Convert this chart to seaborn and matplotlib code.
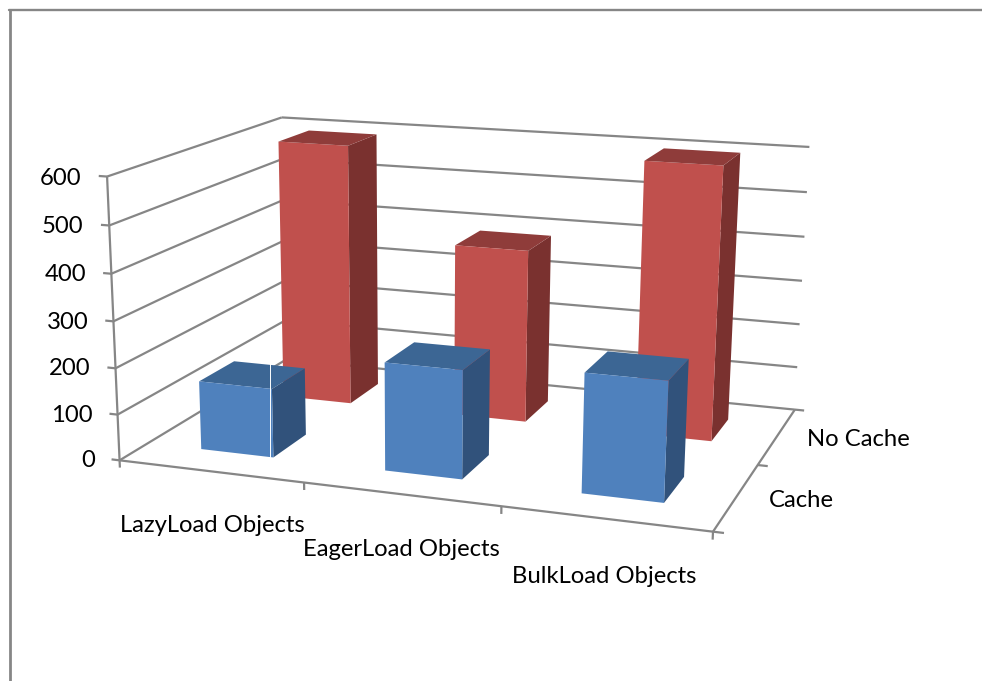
import numpy as np
import matplotlib
matplotlib.use("Agg")
import matplotlib.pyplot as plt
from matplotlib.lines import Line2D
import seaborn as sns

# Query timings by load strategy, with and without the cache
categories = ["LazyLoad Objects", "EagerLoad Objects", "BulkLoad Objects"]
series_names = ["Cache", "No Cache"]
cache_values = [150, 231, 250]
no_cache_values = [594, 388, 600]
value_ticks = [0, 100, 200, 300, 400, 500, 600]

W, H = 982, 681
GRID = "#868686"
BLUE = sns.color_palette(["#4F81BD", "#3C6694", "#31527B"])
RED = sns.color_palette(["#C0504D", "#8F3C3A", "#7A312F"])

sns.set_theme(style="white")
plt.rcParams["font.family"] = ["Lato", "DejaVu Sans"]
plt.rcParams["font.size"] = 17.2

# Scene corners (category, series, value) and where the camera puts them
scene_pts = np.array([
    [0, 0, 0], [3, 0, 0], [3, 2, 0], [0, 2, 0],
    [0, 0, 600], [0, 2, 600], [3, 2, 600],
], float)
image_pts = np.array([
    [120, 459], [713, 533], [795, 409], [285, 361],
    [106, 177], [283, 117], [809, 147],
], float)
# A few bar corners pin down the remaining camera freedom
scene_extra = np.array([[0.7, 0.3, 0], [1.7, 0.3, 0], [2.7, 0.3, 0], [2.7, 1.3, 0]], float)
image_extra = np.array([[274, 457], [463, 479], [663, 504], [712, 440]], float)
scene_pts = np.vstack([scene_pts, scene_extra])
image_pts = np.vstack([image_pts, image_extra])


def fit_camera(X, uv):
    """Direct linear transform giving a 3x4 camera matrix."""
    rows = []
    for (x, y, z), (u, v) in zip(X, uv):
        rows.append([x, y, z / 200, 1, 0, 0, 0, 0, -u * x, -u * y, -u * z / 200, -u])
        rows.append([0, 0, 0, 0, x, y, z / 200, 1, -v * x, -v * y, -v * z / 200, -v])
    P = np.linalg.svd(np.array(rows, float))[2][-1].reshape(3, 4)
    P[:, 2] /= 200
    if P[2] @ np.array([1.5, 1, 300, 1]) < 0:
        P = -P
    return P


camera = fit_camera(scene_pts, image_pts)

fig = plt.figure(figsize=(W / 100, H / 100), dpi=100, facecolor="white")
ax = fig.add_axes([0, 0, 1, 1], projection="3d", computed_zorder=False)
ax.apply_aspect = lambda position=None: None
ax.set_position([0, 0, 1, 1])


def scene_projection():
    lim = ax.viewLim
    sx, sy = lim.width / W, -lim.height / H
    A = np.array([[sx, 0, lim.x0], [0, sy, lim.y1], [0, 0, 1]])
    Q = A @ camera
    return np.array([Q[0], Q[1], [0, 0, 0, -1], Q[2]])


def scene_label(x, y, z, text, **kw):
    """Flat text anchored at a point of the scene."""
    u, v, w = camera @ np.array([x, y, z, 1.0])
    fig.text(u / w / W, 1 - v / w / H, text, color="black", va="center", **kw)


ax.get_proj = scene_projection
ax.set_xlim(-0.3, 3.3)
ax.set_ylim(0, 2.2)
ax.set_zlim(-120, 620)
ax.set_xticks([])
ax.set_yticks([])
ax.set_zticks([])
ax.set_axis_off()

line_kw = dict(color=GRID, lw=1.6, zorder=1, solid_capstyle="butt")

# Gridlines on the two walls
for v in value_ticks:
    ax.plot([0, 0], [0, 2], [v, v], **line_kw)
    ax.plot([0, 3], [2, 2], [v, v], **line_kw)
    ax.plot([-0.045, 0], [0, 0], [v, v], **line_kw)
    scene_label(-0.14, 0, v - 7, str(v), ha="right")

# Floor edges and the value axis
ax.plot([0, 3], [0, 0], [0, 0], **line_kw)
ax.plot([3, 3], [0, 2], [0, 0], **line_kw)
ax.plot([0, 0], [0, 0], [0, 600], **line_kw)

# Tick marks along the floor
for i in range(len(categories) + 1):
    ax.plot([i, i], [0, 0], [-16, 0], **line_kw)
for j in range(len(series_names) + 1):
    ax.plot([3, 3.05], [j, j], [0, 0], **line_kw)

for i, name in enumerate(categories):
    scene_label(i + 0.5, 0, -118, name, ha="center")
for j, name in enumerate(series_names):
    scene_label(3.155, j + 0.5, 0, name, ha="left")

# Bars: back row first, so the front row paints over it
hidden = (0, 0, 0, 0)
rows = [(1, no_cache_values, RED), (0, cache_values, BLUE)]
order = 10
for j, values, (front, top, side) in rows:
    for i, value in enumerate(values):
        poly_colors = [hidden, top, front, hidden, hidden, side]
        ax.bar3d(i + 0.3, j + 0.3, 0, 0.4, 0.4, value, color=poly_colors,
                 shade=False, linewidth=0, zorder=order)
        order += 1

# Chart frame running off the top and right of the canvas
def px_line(x0, y0, x1, y1, **kw):
    fig.add_artist(Line2D([x0 / W, x1 / W], [1 - y0 / H, 1 - y1 / H],
                          transform=fig.transFigure, **kw))

px_line(9, 10, W, 10, color=GRID, lw=1.7)
px_line(10, 10, 10, H, color=GRID, lw=2.0)
px_line(269.5, 363, 269.5, 457, color="white", lw=0.7, zorder=20)

fig.savefig("out.png", dpi=100, facecolor="white")
